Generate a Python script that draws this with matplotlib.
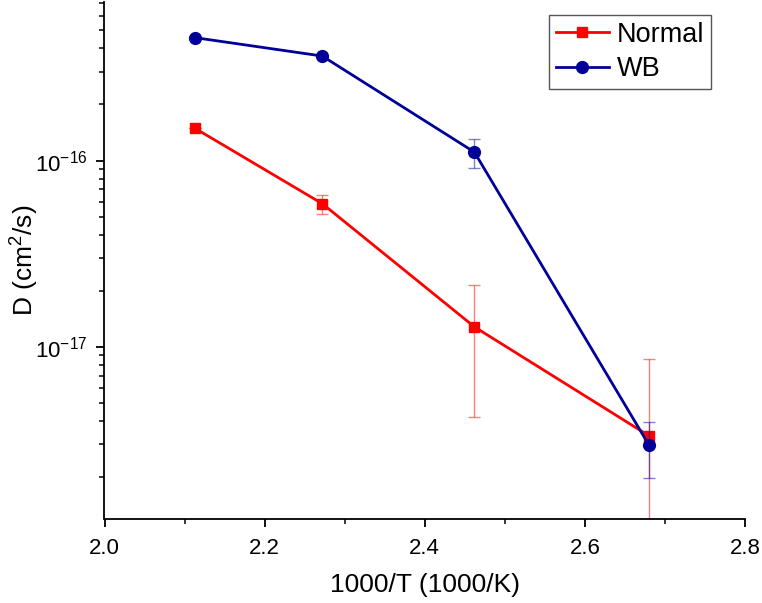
import matplotlib
matplotlib.use("Agg")
import matplotlib.pyplot as plt
import matplotlib.ticker as mticker

plt.rcParams['font.family'] = ['Liberation Sans', 'DejaVu Sans']
plt.rcParams['mathtext.fontset'] = 'custom'
plt.rcParams['mathtext.rm'] = 'Liberation Sans'
plt.rcParams['mathtext.it'] = 'Liberation Sans:italic'
plt.rcParams['mathtext.bf'] = 'Liberation Sans:bold'

# data
inv_T = [2.113, 2.272, 2.462, 2.680]
normal_D = [1.49e-16, 5.87e-17, 1.28e-17, 3.33e-18]
normal_err = [0.0, 7.0e-18, 8.6e-18, 5.3e-18]
wb_D = [4.57e-16, 3.64e-16, 1.11e-16, 2.97e-18]
wb_err = [0.0, 0.0, 2.0e-17, 1.0e-18]
y_major_ticks = [1e-17, 1e-16]

red = '#FF0000'
blue = '#000099'

fig = plt.figure(figsize=(7.62, 6.03), dpi=100)
ax = fig.add_axes([104.5/762, 1-519/603, (745-104.5)/762, (519-2)/603])

ax.errorbar(inv_T, normal_D, yerr=normal_err, fmt='none', ecolor=red, alpha=0.5,
            elinewidth=1.0, capsize=4, capthick=1.0, zorder=2)
ax.errorbar(inv_T, wb_D, yerr=wb_err, fmt='none', ecolor=blue, alpha=0.5,
            elinewidth=1.0, capsize=4, capthick=1.0, zorder=5)
ax.plot(inv_T, normal_D, color=red, lw=2.0, marker='s', ms=7.7, label='Normal', zorder=3)
ax.plot(inv_T, wb_D, color=blue, lw=2.0, marker='o', ms=8.5, label='WB', zorder=4)

ax.set_yscale('log')
ax.set_xlim(2.0, 2.8)
ax.set_ylim(1.19e-18, 7.1e-16)
ax.xaxis.set_major_locator(mticker.MultipleLocator(0.2))
ax.xaxis.set_minor_locator(mticker.MultipleLocator(0.1))
ax.xaxis.set_major_formatter(mticker.FormatStrFormatter('%.1f'))
ax.yaxis.set_major_locator(mticker.FixedLocator(y_major_ticks))
ax.yaxis.set_major_formatter(mticker.LogFormatterMathtext())
ax.yaxis.set_minor_locator(mticker.LogLocator(base=10, subs=range(2, 10)))
ax.yaxis.set_minor_formatter(mticker.NullFormatter())

for s in ['top', 'right']:
    ax.spines[s].set_visible(False)
for s in ['left', 'bottom']:
    ax.spines[s].set_linewidth(1.3)

ax.tick_params(which='major', direction='out', length=6, width=1.3, labelsize=16, pad=6)
ax.tick_params(axis='x', which='major', pad=8)
ax.tick_params(which='minor', direction='out', length=3.5, width=1.1)

ax.set_xlabel('1000/T (1000/K)', fontsize=19, labelpad=10)
ax.set_ylabel('D (cm$^2$/s)', fontsize=19)
ax.yaxis.set_label_coords(-0.099, 0.5)

leg = ax.legend(loc='upper right', bbox_to_anchor=(711/762, 1-15/603),
                bbox_transform=fig.transFigure, borderaxespad=0, fontsize=19.5,
                fancybox=False, framealpha=1, edgecolor='#555555',
                handlelength=1.95, handletextpad=0.3, borderpad=0.25,
                labelspacing=0.32)
leg.get_frame().set_linewidth(1.0)

fig.savefig('out.png', dpi=100)
